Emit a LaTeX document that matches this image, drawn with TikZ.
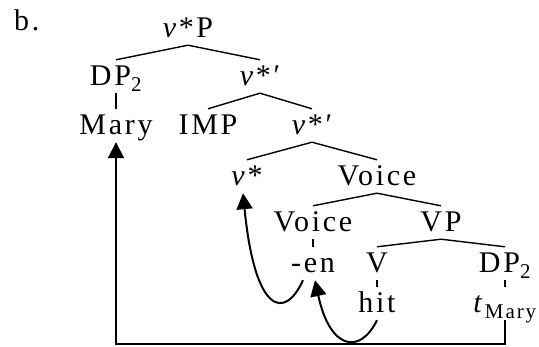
\documentclass[tikz,border=0pt]{standalone}
\usepackage{fontspec}
\setmainfont{Liberation Serif}[LetterSpace=9]
\usepackage{tikz}
\usetikzlibrary{arrows.meta}
\usetikzlibrary{trees}

\begin{document}
\begin{tikzpicture}[x=1pt,y=1pt,font=\fontsize{30}{34}\selectfont,
  level 1/.style={level distance=48pt,sibling distance=144pt},
  level 2/.style={level distance=49pt,sibling distance=104pt},
  level 3/.style={level distance=51pt,sibling distance=130pt},
  level 4/.style={level distance=46pt,sibling distance=128pt},
  level 5/.style={level distance=41pt,sibling distance=128pt},
  level 6/.style={level distance=40pt}]
\tikzstyle{every node}=[text height=24pt,text depth=5pt,inner sep=2pt]
\tikzstyle{edge from parent}=[draw,line width=1.4pt]
\tikzstyle{move}=[line width=2pt,-{Triangle[length=16pt,width=16pt]}]
\useasboundingbox (0,0) rectangle (539,-347);
\node [anchor=base west] (lbl) at (12,-31) {b.};
\node (vp) at (188,-28.5) {\textit{v}*P}
  [parent anchor=south,child anchor=north]
  child {node (dpa) {DP\textsubscript{2}}
    child {node (mary) {Mary}}
  }
  child {node (vbara) {\textit{v}*′}
    child {node (imp) {IMP}}
    child {node (vbarb) {\textit{v}*′}
      child {node (vs) {\textit{v}*}}
      child {node (voicep) {Voice}
        child {node (voice) {Voice}
          child {node (en) {-en}}
        }
        child {node (vpp) {VP}
          child {node (v) {V}
            child {node (hit) {hit}}
          }
          child {node (dpb) {DP\textsubscript{2}}
            child {node (t) {\textit{t}\textsubscript{Mary}}}
          }
        }
      }
    }
  };
% head movement
\draw [move] ([xshift=-10pt]en.south) .. controls (285,-320) and (255,-315) .. ([xshift=-4pt]vs.south);
\draw [move] (hit.south) .. controls (360,-355) and (330,-350) .. ([xshift=2pt]en.south);
% DP movement
\draw [move] (t.south) -- ++(0,-24pt) -| (mary.south);
\end{tikzpicture}
\end{document}
